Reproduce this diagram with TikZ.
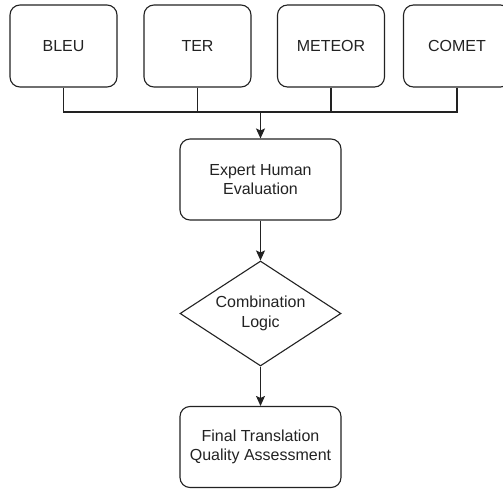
\documentclass[tikz,border=0pt]{standalone}
\usepackage{fontspec}
\setmainfont{Liberation Sans}
\usetikzlibrary{shapes.geometric,arrows.meta}
\definecolor{ink}{HTML}{222222}
\begin{document}
\begin{tikzpicture}[x=1pt,y=-1pt,
  every node/.style={font=\fontsize{16}{19.5}\selectfont, text=ink, align=center},
  metric/.style={draw=ink, line width=1.1pt, rounded corners=10pt,
    minimum width=107pt, minimum height=82pt, inner sep=0pt},
  stage/.style={draw=ink, line width=1.1pt, rounded corners=10pt,
    minimum width=161pt, minimum height=81pt, inner sep=0pt},
  decide/.style={draw=ink, line width=1.1pt, diamond, aspect=1.53,
    minimum width=161pt, minimum height=105pt, inner sep=0pt},
  link/.style={draw=ink, line width=1.1pt},
  flow/.style={link, -{Stealth[length=10pt,width=9pt,inset=2pt]}}]
\useasboundingbox (0,0) rectangle (503,489);
% metric boxes along the top
\node[metric] (bleu)   at (63.5,46) {BLEU};
\node[metric] (ter)    at (197.5,46) {TER};
\node[metric] (meteor) at (331,46) {METEOR};
\node[metric] (comet)  at (457,46) {COMET};
% main column
\node[stage]  (expert) at (260.5,179.5) {Expert Human\\Evaluation};
\node[decide] (logic)  at (260.5,313.5) {Combination\\Logic};
\node[stage]  (final)  at (260.5,447) {Final Translation\\Quality Assessment};
% collecting bus under the metrics
\coordinate (bus) at (260.5,112);
\draw[link] (bleu.south) |- (bus);
\draw[link] (ter.south) |- (bus);
\draw[link] (meteor.south) |- (bus);
\draw[link] (comet.south) |- (bus);
\draw[flow] (bus) -- (expert.north);
\draw[flow] (expert.south) -- (logic.north);
\draw[flow] (logic.south) -- (final.north);
\end{tikzpicture}
\end{document}
